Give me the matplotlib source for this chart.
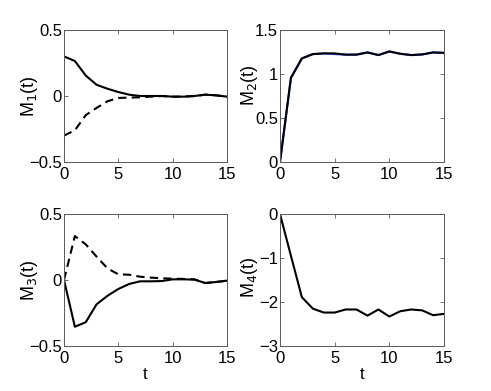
import matplotlib
matplotlib.use("Agg")
import matplotlib.pyplot as plt
import numpy as np

# ── Data ──────────────────────────────────────────────────────────────────────

t = np.arange(16)

m1_solid = [0.30, 0.265, 0.155, 0.085, 0.055, 0.03, 0.01, 0.0,
            0.0, 0.0, -0.005, -0.005, 0.0, 0.01, 0.005, -0.005]
m1_dash = [-0.30, -0.26, -0.145, -0.09, -0.04, -0.015, -0.012, -0.01,
           -0.005, 0.0, -0.005, -0.005, 0.0, 0.01, 0.005, -0.005]

m2_blue = [0.0, 0.956, 1.177, 1.226, 1.234, 1.226, 1.22, 1.22,
           1.245, 1.215, 1.256, 1.23, 1.215, 1.222, 1.245, 1.24]
m2_solid = [0.0, 0.956, 1.177, 1.226, 1.234, 1.234, 1.22, 1.22,
            1.245, 1.215, 1.256, 1.23, 1.215, 1.222, 1.245, 1.24]

m3_solid = [0.0, -0.354, -0.32, -0.184, -0.12, -0.068, -0.03, -0.01,
            -0.01, -0.008, 0.005, 0.005, 0.003, -0.023, -0.015, -0.005]
m3_dash = [0.0, 0.333, 0.27, 0.177, 0.088, 0.043, 0.04, 0.025,
           0.018, 0.013, 0.01, 0.008, 0.005, -0.023, -0.015, -0.005]

m4_solid = [0.0, -0.95, -1.89, -2.15, -2.24, -2.24, -2.17, -2.17,
            -2.31, -2.17, -2.33, -2.21, -2.17, -2.19, -2.30, -2.27]

plt.rcParams["font.family"] = ["Liberation Sans", "DejaVu Sans"]
plt.rcParams["font.size"] = 12

fig = plt.figure(figsize=(4.91, 3.91), dpi=100)
W, H = 491, 391


def make_ax(x0, x1, y0, y1):
    ax = fig.add_axes([x0 / W, 1 - y1 / H, (x1 - x0) / W, (y1 - y0) / H])
    for s in ax.spines.values():
        s.set_color("0.35")
        s.set_linewidth(0.7)
    ax.tick_params(direction="in", length=3, width=0.6, color="0.35",
                   top=True, right=True, labelsize=12)
    ax.tick_params(axis="x", pad=3.5)
    ax.tick_params(axis="y", pad=1.5)
    ax.set_xlim(0, 15)
    ax.set_xticks([0, 5, 10, 15])
    return ax


ax1 = make_ax(64, 227, 30, 162)
ax2 = make_ax(280, 444, 30, 162)
ax3 = make_ax(64, 227, 214, 346)
ax4 = make_ax(280, 444, 214, 346)

lw = 1.5
ax1.plot(t, m1_solid, color="black", lw=lw)
ax1.plot(t, m1_dash, color="black", lw=lw, dashes=(4, 2.5))
ax1.set_ylim(-0.5, 0.5)
ax1.set_yticks([-0.5, 0, 0.5])
ax1.set_yticklabels(["\u22120.5", "0", "0.5"])

ax2.plot(t, m2_blue, color="#3355ff", lw=lw)
ax2.plot(t, m2_solid, color="black", lw=lw)
ax2.set_ylim(0, 1.5)
ax2.set_yticks([0, 0.5, 1, 1.5])
ax2.set_yticklabels(["0", "0.5", "1", "1.5"])

ax3.plot(t, m3_solid, color="black", lw=lw)
ax3.plot(t, m3_dash, color="black", lw=lw, dashes=(4, 2.5))
ax3.set_ylim(-0.5, 0.5)
ax3.set_yticks([-0.5, 0, 0.5])
ax3.set_yticklabels(["\u22120.5", "0", "0.5"])

ax4.plot(t, m4_solid, color="black", lw=lw)
ax4.set_ylim(-3, 0)
ax4.set_yticks([-3, -2, -1, 0])

# y labels sit tight against (even over) the tick labels, as in the original
ax1.set_ylabel("M$_1$(t)")
ax1.yaxis.set_label_coords(-0.15, 0.5)
ax2.set_ylabel("M$_2$(t)")
ax2.yaxis.set_label_coords(-0.12, 0.58)
ax3.set_ylabel("M$_3$(t)")
ax3.yaxis.set_label_coords(-0.15, 0.5)
ax4.set_ylabel("M$_4$(t)")
ax4.yaxis.set_label_coords(-0.12, 0.52)

for ax in (ax1, ax2, ax3, ax4):
    ax.yaxis.label.set_size(13)

ax3.set_xlabel("t", labelpad=1)
ax4.set_xlabel("t", labelpad=1)

fig.savefig("out.png", dpi=100, facecolor="white")
